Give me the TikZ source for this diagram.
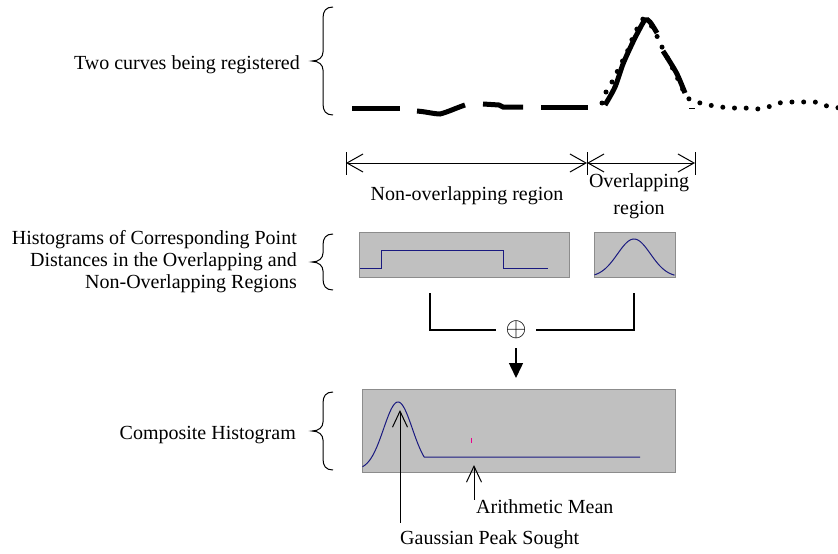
\RequirePackage{fix-cm}
\documentclass[tikz,border=0pt]{standalone}
\usepackage{fontspec}
\setmainfont{Liberation Serif}
\usetikzlibrary{arrows.meta}
\definecolor{histfill}{HTML}{C0C0C0}
\definecolor{histedge}{HTML}{8C8C8C}
\definecolor{curveblue}{HTML}{1A1A80}

% left curly brace: #1 top y, #2 tip y, #3 bottom y
\newcommand\leftcurly[3]{%
  \draw[brc] (333,#1) .. controls (326,#1) and (323,#1+4) .. (323,#1+11)
    -- (323,#2-9) .. controls (323,#2-4) and (319,#2) .. (312,#2)
    .. controls (319,#2) and (323,#2+4) .. (323,#2+9)
    -- (323,#3-11) .. controls (323,#3-4) and (326,#3) .. (333,#3);}

\begin{document}
\begin{tikzpicture}[x=1pt,y=-1pt,
  lbl/.style={font=\fontsize{20}{22}\selectfont, inner sep=0pt},
  brc/.style={line width=1pt},
  histbox/.style={draw=histedge, fill=histfill, line width=1pt, inner sep=0pt, anchor=north west},
  hist/.style={draw=curveblue, line width=1pt},
  joinline/.style={line width=1.5pt},
  dimline/.style={line width=1pt, {Straight Barb[length=16pt,width=18pt]}-{Straight Barb[length=16pt,width=18pt]}},
  pointer/.style={line width=1pt, -{Straight Barb[length=16pt,width=15pt]}},
  dashcurve/.style={line width=5pt},
  dotcurve/.style={line width=5pt, line cap=round, dash pattern=on 0pt off 11.7pt},
]
\useasboundingbox (0,0) rectangle (838,554);

% ---------- left-hand labels with braces ----------
\node[lbl, anchor=east] (twocurves) at (300,65) {Two curves being registered};
\leftcurly{7}{61}{115}
\node[lbl, anchor=east, align=right] (histlabel) at (297,262)
  {Histograms of Corresponding Point\\Distances in the Overlapping and\\Non-Overlapping Regions};
\leftcurly{234}{262}{290}
\node[lbl, anchor=east] (complabel) at (296,435) {Composite Histogram};
\leftcurly{392}{431}{470}

% ---------- the two curves ----------
\draw[dashcurve] (352,108) -- (400,108);
\draw[dashcurve] (417,111) .. controls (428,112) and (434,114) .. (440,114)
  .. controls (448,112) and (456,108) .. (465,105);
\draw[dashcurve] (483,104) -- (499,105) -- (503,107) -- (523,107);
\draw[dashcurve] (541,107) -- (588,107);
\draw[dashcurve] plot[smooth, tension=0.5] coordinates
  {(605,105) (615,87) (623,64) (632,44) (638,32) (645,20) (650,22) (657,33)};
\draw[dashcurve] plot[smooth, tension=0.5] coordinates
  {(663,51) (670,62) (677,74) (683,88) (685,93)};
\draw[dotcurve] plot[smooth, tension=0.5] coordinates
  {(602,103) (606,92) (612,82) (617,72) (623,60) (628,50) (633,37) (638,27) (643,19) (650,24)
   (656,34) (660,43) (665,53) (676,75) (687,97) (697,102) (709,105) (721,107) (733,108) (745,108)
   (757,109) (768,107) (779,103) (792,102) (803,102) (815,102) (827,106) (840,108)};
\draw[line width=1pt] (689,108) -- (695,108);

% ---------- region dimensions ----------
\coordinate (dl) at (346,163);
\coordinate (dm) at (587,163);
\coordinate (dr) at (695,163);
\foreach \c in {dl,dm,dr}
  \draw[line width=1pt] ([yshift=11pt]\c) -- ([yshift=-12pt]\c);
\draw[dimline] (dl) -- (dm);
\draw[dimline] (dm) -- (dr);
\node[lbl] (nonov) at (467,196) {Non-overlapping region};
\node[lbl, align=center, font=\fontsize{20}{27}\selectfont] (ov) at (639,196) {Overlapping\\region};

% ---------- histograms of the two regions ----------
\node[histbox, minimum width=210pt, minimum height=45pt] (hnon) at (359,232) {};
\node[histbox, minimum width=81pt, minimum height=45pt] (hov) at (594,232) {};
\draw[hist] (360,268) -- (381,268) -- (381,250) -- (503,250) -- (503,268) -- (548,268);
\draw[hist] plot[domain=594.5:674.5, samples=60] (\x, {277 - 38*exp(-((\x-634)^2)/(2*16.5^2))});

% ---------- combining ----------
\node[inner sep=9pt, font=\fontsize{27}{27}\selectfont] (plus) at (516,330) {$\oplus$};
\draw[joinline] (430,293) |- (plus.west);
\draw[joinline] (634,293) |- (plus.east);

% ---------- composite histogram ----------
\node[histbox, minimum width=313pt, minimum height=83pt] (comp) at (362,389) {};
\draw[joinline, -{Triangle[length=15pt,width=14pt]}, shorten >=11pt] (plus.south) -- (plus.south |- comp.north);
\draw[hist] plot[domain=362.5:424.2, samples=60] (\x, {470 - 68*exp(-((\x-398)^2)/(2*14.4^2))}) -- (640,457);
\draw[magenta, line width=0.8pt] (471,438) -- (471,443);

% ---------- annotations ----------
\coordinate (peak) at (400,410);
\coordinate (meanpt) at (474,465);
\node[lbl, anchor=west] (gps) at (400,540) {Gaussian Peak Sought};
\node[lbl, anchor=west] (amean) at (476,507) {Arithmetic Mean};
\draw[pointer] ([yshift=8pt]gps.north west) -- (peak);
\draw[pointer] ([xshift=-2pt]amean.north west) -- (meanpt);
\end{tikzpicture}
\end{document}
